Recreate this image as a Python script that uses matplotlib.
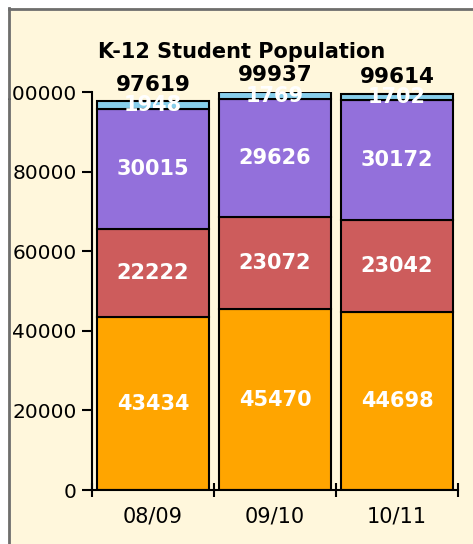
import matplotlib
matplotlib.use("Agg")
import matplotlib.pyplot as plt
from matplotlib.patches import Rectangle
from matplotlib.lines import Line2D
import numpy as np

years = ["08/09", "09/10", "10/11"]
series_a = [43434, 45470, 44698]   # orange
series_b = [22222, 23072, 23042]   # red
series_c = [30015, 29626, 30172]   # purple
series_d = [1948, 1769, 1702]      # light blue
totals = [97619, 99937, 99614]
yticks = [0, 20000, 40000, 60000, 80000, 100000]

colors = ["#FFA500", "#CD5C5C", "#9370DB", "#87CEEB"]
W, H = 473, 544
fig = plt.figure(figsize=(W/100, H/100), dpi=100)
fig.patch.set_facecolor("#FFF7DC")

ax = fig.add_axes([92/W, 1-490/H, (458-92)/W, (490-92)/H])
ax.set_facecolor("none")
x = np.arange(len(years))
bottom = np.zeros(len(years))
for vals, c in zip([series_a, series_b, series_c, series_d], colors):
    ax.bar(x, vals, bottom=bottom, width=0.918, color=c,
           edgecolor="black", linewidth=1.5, zorder=2)
    for xi, b, v in zip(x, bottom, vals):
        ax.text(xi, b + v/2, str(v), ha="center", va="center", color="white",
                fontsize=15, fontweight="bold", zorder=3)
    bottom = bottom + np.array(vals)

for xi, t, top in zip(x, totals, bottom):
    ax.annotate(str(t), (xi, top), xytext=(0, 5), textcoords="offset points",
                ha="center", va="bottom", fontsize=15.5, fontweight="bold",
                color="black")

ax.set_xlim(-0.5, 2.5)
ax.set_ylim(0, 100000)
ax.set_yticks(yticks)
ax.set_yticklabels([str(v) for v in yticks], fontsize=14.5)
ax.set_xticks([-0.5, 0.5, 1.5, 2.5])
ax.set_xticklabels([])
ax.set_xticks(x, minor=True)
ax.set_xticklabels(years, minor=True, fontsize=15)
ax.tick_params(axis="x", which="minor", length=0, pad=12)
ax.tick_params(axis="x", which="major", direction="inout", length=10, width=1.5)
ax.tick_params(axis="y", direction="out", length=7, width=1.5, pad=4)
for s in ["top", "right"]:
    ax.spines[s].set_visible(False)
for s in ["left", "bottom"]:
    ax.spines[s].set_linewidth(1.5)

fig.text(242/W, 1-52/H, "K-12 Student Population", ha="center", va="center",
         fontsize=15, fontweight="bold")

# white margin and gray frame
fig.add_artist(Rectangle((0, 0), 8/W, 1, transform=fig.transFigure,
                         facecolor="white", edgecolor="none", zorder=10))
fig.add_artist(Rectangle((0, 1-8/H), 1, 8/H, transform=fig.transFigure,
                         facecolor="white", edgecolor="none", zorder=10))
fig.add_artist(Line2D([8.5/W, 8.5/W], [0, 1-8/H], transform=fig.transFigure,
                      color="#6E6E6E", linewidth=2, zorder=11))
fig.add_artist(Line2D([8.5/W, 1], [1-8.5/H, 1-8.5/H], transform=fig.transFigure,
                      color="#6E6E6E", linewidth=2, zorder=11))

fig.savefig("out.png", dpi=100)
